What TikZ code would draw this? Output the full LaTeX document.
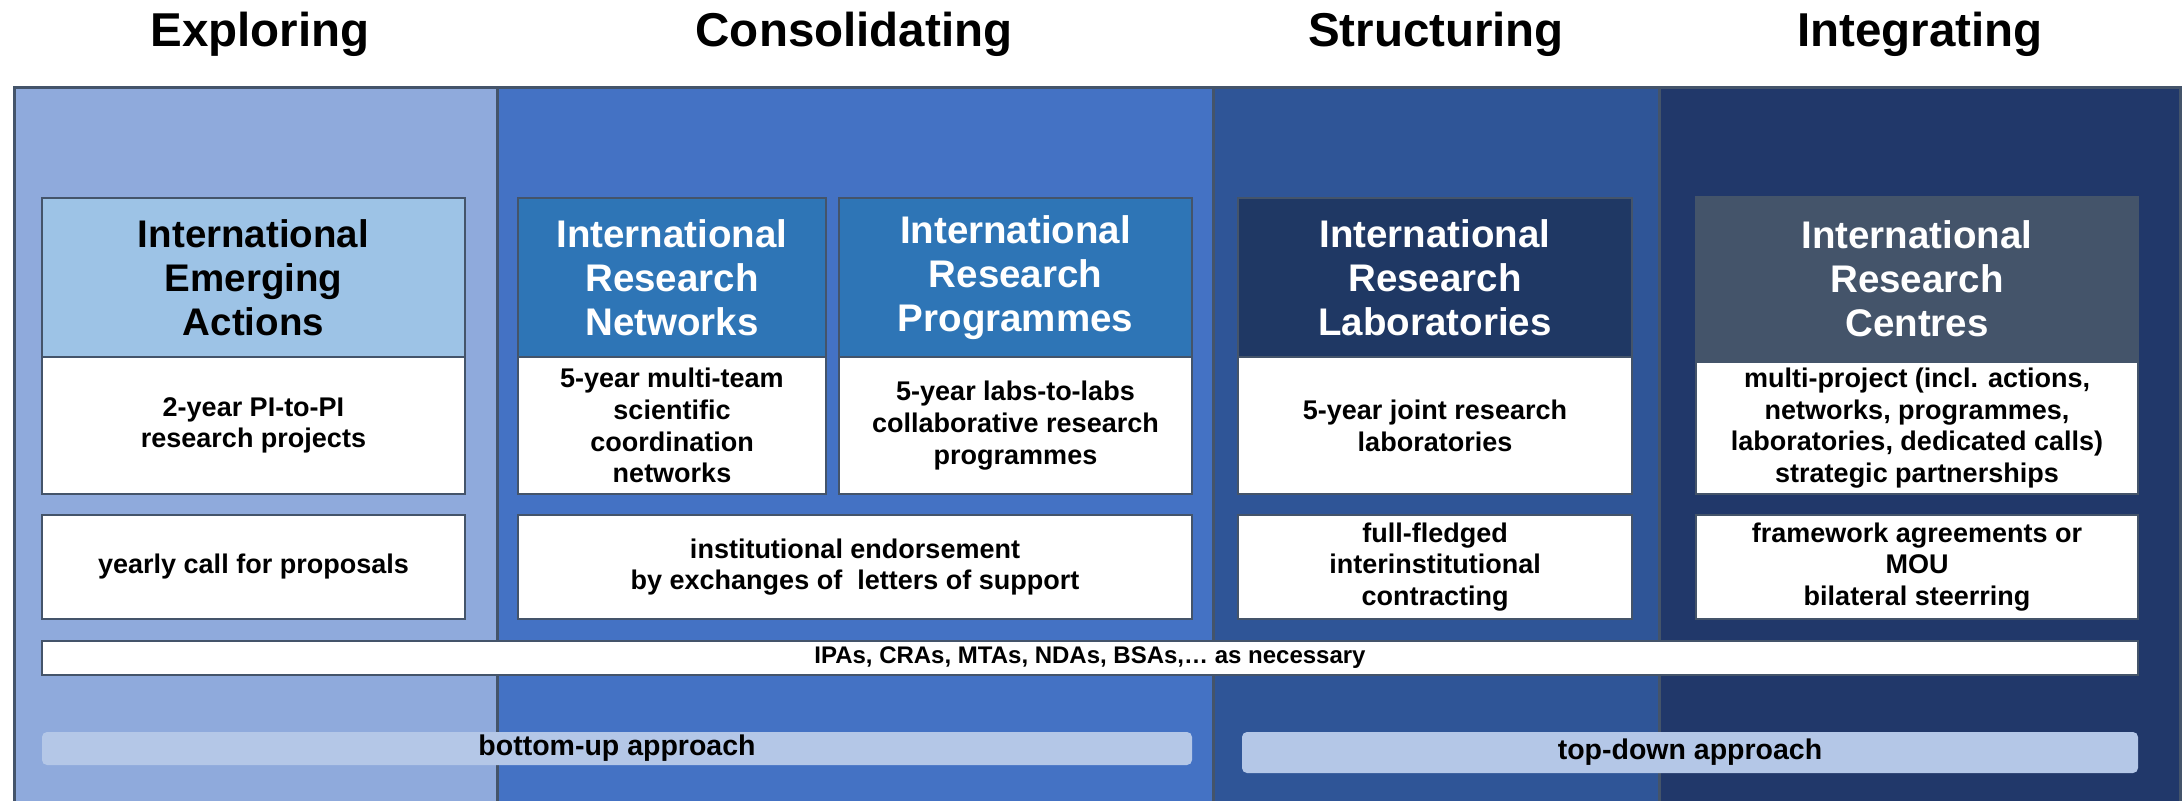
\documentclass[tikz,border=0pt]{standalone}
\usepackage{fontspec}
\setmainfont{Liberation Sans}

\definecolor{framegray}{HTML}{44546A}
\definecolor{explorefill}{HTML}{8FAADC}
\definecolor{consolfill}{HTML}{4472C4}
\definecolor{structfill}{HTML}{2F5597}
\definecolor{integrfill}{HTML}{21386A}
\definecolor{ieafill}{HTML}{9DC3E6}
\definecolor{irnfill}{HTML}{2E75B6}
\definecolor{irlfill}{HTML}{1F3864}
\definecolor{approachfill}{HTML}{B4C7E7}

\begin{document}
\begin{tikzpicture}[x=1pt,y=-1pt]

    % `headbox' is the coloured top of each instrument.
    % `textbox' is used for the white boxes below it.
    % `approachbar' is the light band at the bottom.
    \tikzstyle{phasetitle} = [anchor=base,font=\fontsize{47.5}{52}\selectfont\bfseries]
    \tikzstyle{headbox} = [draw=framegray,line width=2.5pt,anchor=north west,inner sep=0pt,outer sep=0pt,align=center,font=\fontsize{38.5}{44}\selectfont\bfseries]
    \tikzstyle{textbox} = [draw=framegray,fill=white,line width=2.5pt,anchor=north west,inner sep=0pt,outer sep=0pt,align=center,font=\fontsize{27}{31.7}\selectfont\bfseries]
    \tikzstyle{approachbar} = [fill=approachfill,rounded corners=5pt,anchor=north west,inner sep=0pt,outer sep=0pt,font=\fontsize{28.5}{32}\selectfont\bfseries]
    %
    \useasboundingbox (0,0) rectangle (2183,800);

    % Columns.
    \fill[explorefill] (14,87) rectangle (497,810);
    \fill[consolfill] (497,87) rectangle (1213,810);
    \fill[structfill] (1213,87) rectangle (1659,810);
    \fill[integrfill] (1659,87) rectangle (2180,810);
    \draw[framegray,line width=3pt] (14,810) -- (14,87) -- (2180,87) -- (2180,810)
        (497,87) -- (497,810) (1213,87) -- (1213,810) (1659,87) -- (1659,810);

    % Titles.
    \node[phasetitle] (tExplore) at (260,47) {Exploring};
    \node[phasetitle] (tConsol) at (854,47) {Consolidating};
    \node[phasetitle] (tStruct) at (1436,47) {Structuring};
    \node[phasetitle] (tIntegr) at (1920,47) {Integrating};

    % Second and third rows.
    \node[textbox,minimum width=423pt,minimum height=137pt] (ieaBody) at (42,357) {2-year PI-to-PI\\research projects};
    \node[textbox,minimum width=308pt,minimum height=137pt] (irnBody) at (518,357) {5-year multi-team\\scientific\\coordination\\networks};
    \node[textbox,minimum width=353pt,minimum height=137pt] (irpBody) at (839,357) {5-year labs-to-labs\\collaborative research\\programmes};
    \node[textbox,minimum width=394pt,minimum height=137pt] (irlBody) at (1238,357) {5-year joint research\\laboratories};
    \node[textbox,minimum width=442pt,minimum height=132pt] (ircBody) at (1696,362) {multi-project (incl. actions,\\networks, programmes,\\laboratories, dedicated calls)\\strategic partnerships};

    \node[textbox,minimum width=423pt,minimum height=104pt] (ieaCall) at (42,515) {yearly call for proposals};
    \node[textbox,minimum width=674pt,minimum height=104pt] (consolCall) at (518,515) {institutional endorsement\\by exchanges of\ \ letters of support};
    \node[textbox,minimum width=394pt,minimum height=104pt] (irlCall) at (1238,515) {full-fledged\\interinstitutional\\contracting};
    \node[textbox,minimum width=442pt,minimum height=104pt] (ircCall) at (1696,515) {framework agreements or\\MOU\\bilateral steerring};

    % Top row.
    \node[headbox,fill=ieafill,minimum width=423pt,minimum height=159pt] (iea) at (42,198) {International\\Emerging\\Actions};
    \node[headbox,fill=irnfill,text=white,minimum width=308pt,minimum height=159pt] (irn) at (518,198) {International\\Research\\Networks};
    \node[headbox,fill=irnfill,text=white,minimum width=353pt,minimum height=159pt] (irp) at (839,198) {International\\Research\\Programmes};
    \node[headbox,fill=irlfill,text=white,minimum width=394pt,minimum height=159pt] (irl) at (1238,198) {International\\Research\\Laboratories};
    \node[headbox,fill=framegray,text=white,minimum width=442pt,minimum height=164pt] (irc) at (1696,197) {International\\Research\\Centres};

    % Band across all columns.
    \node[textbox,font=\fontsize{24}{28}\selectfont\bfseries,minimum width=2096pt,minimum height=34pt] (agreements) at (42,641) {IPAs, CRAs, MTAs, NDAs, BSAs,… as necessary};

    % Approaches.
    \node[approachbar,minimum width=1150pt,minimum height=33pt] (bottomUp) at (42,732) {bottom-up approach};
    \node[approachbar,minimum width=896pt,minimum height=41pt] (topDown) at (1242,732) {top-down approach};
    %
\end{tikzpicture}
\end{document}
